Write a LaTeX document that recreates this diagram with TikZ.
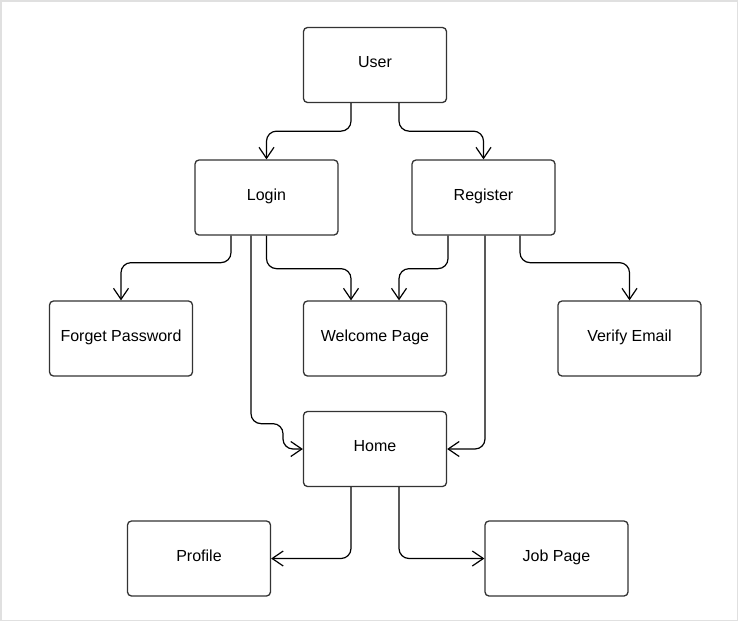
\documentclass[tikz,border=0pt]{standalone}
\usepackage{fontspec}
\setmainfont{Liberation Sans}
\usetikzlibrary{arrows.meta}
\begin{document}
\begin{tikzpicture}[x=1pt,y=-1pt,
 box/.style={draw=black!80, line width=1.3pt, rounded corners=4pt, minimum width=143pt, minimum height=75pt, font=\fontsize{16}{18}\selectfont, inner sep=0pt, text height=11pt, text depth=6pt},
 conn/.style={draw=black, line width=1.2pt, rounded corners=10pt, -{Straight Barb[length=11pt,width=15pt,line width=1.2pt]}}]
\useasboundingbox (0,0) rectangle (738,622);
\draw[black!12, line width=1.5pt] (0.75,0.75) rectangle (737.25,620.5);
\node[box] (user) at (375,65) {User};
\node[box] (login) at (266.5,197.5) {Login};
\node[box] (register) at (483.5,197.5) {Register};
\node[box] (forget) at (121,338.5) {Forget Password};
\node[box] (welcome) at (375,338.5) {Welcome Page};
\node[box] (verify) at (629.5,338.5) {Verify Email};
\node[box] (home) at (375,449) {Home};
\node[box] (profile) at (199,558.5) {Profile};
\node[box] (job) at (556.5,558.5) {Job Page};
\draw[conn] ([xshift=-24pt]user.south) -- ++(0,28) -| (login.north);
\draw[conn] ([xshift=24pt]user.south) -- ++(0,28) -| (register.north);
\draw[conn] ([xshift=-35.5pt]login.south) -- ++(0,27) -| (forget.north);
\draw[conn] (login.south) -- ++(0,33) -| ([xshift=-24pt]welcome.north);
\draw[conn] ([xshift=-35.5pt]register.south) -- ++(0,33) -| ([xshift=24pt]welcome.north);
\draw[conn] ([xshift=36.5pt]register.south) -- ++(0,27) -| (verify.north);
\draw[conn] ([xshift=1.5pt]register.south) |- (home.east);
\draw[conn] ([xshift=-15.5pt]login.south) -- ++(0,188) -- ++(32,0) |- (home.west);
\draw[conn] ([xshift=-24pt]home.south) |- (profile.east);
\draw[conn] ([xshift=24pt]home.south) |- (job.west);
\end{tikzpicture}
\end{document}
